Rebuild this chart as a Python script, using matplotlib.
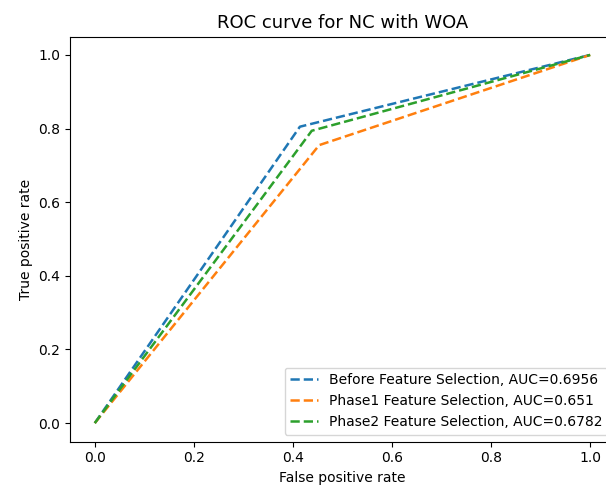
import matplotlib
matplotlib.use('Agg')
import matplotlib.pyplot as plt

# ROC points (fpr, tpr) for each run
labels = ['Before Feature Selection, AUC=0.6956',
          'Phase1 Feature Selection, AUC=0.651',
          'Phase2 Feature Selection, AUC=0.6782']
fpr_before = [0.0, 0.414, 1.0]
tpr_before = [0.0, 0.805, 1.0]
fpr_phase1 = [0.0, 0.453, 1.0]
tpr_phase1 = [0.0, 0.755, 1.0]
fpr_phase2 = [0.0, 0.438, 1.0]
tpr_phase2 = [0.0, 0.794, 1.0]

# the reference is cropped on the right, so the axes run past the figure edge
fig = plt.figure(figsize=(6.06, 4.91), dpi=100)
ax = fig.add_axes([70 / 606, 49.5 / 491, 545 / 606, 405 / 491])

ax.plot(fpr_before, tpr_before, linestyle='--', lw=1.8, color='#1f77b4', label=labels[0])
ax.plot(fpr_phase1, tpr_phase1, linestyle='--', lw=1.8, color='#ff7f0e', label=labels[1])
ax.plot(fpr_phase2, tpr_phase2, linestyle='--', lw=1.8, color='#2ca02c', label=labels[2])

ax.set_xlabel('False positive rate')
ax.set_ylabel('True positive rate')
ax.set_title('ROC curve for NC with WOA', fontsize=13)
ax.legend(loc='lower right')
ax.spines['right'].set_visible(False)  # cut off in the reference

fig.savefig('out.png', dpi=100)
